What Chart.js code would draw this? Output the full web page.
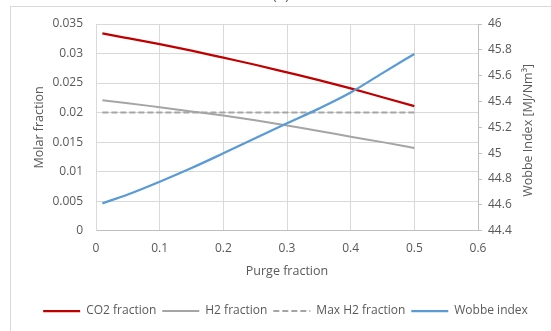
<!DOCTYPE html>
<html>
<head>
<meta charset="utf-8">
<script src="https://cdn.jsdelivr.net/npm/chart.js@4.4.1/dist/chart.umd.min.js"></script>
<style>
  html, body { margin: 0; padding: 0; background: #fff; overflow: hidden; }
  #wrap { position: absolute; left: 0; top: 0; width: 551px; height: 331px; }
</style>
</head>
<body>
<div id="wrap"><canvas id="chart" width="551" height="331"></canvas></div>
<script>
// purge fraction sample points
const purge = [0.01, 0.05, 0.1, 0.15, 0.2, 0.25, 0.3, 0.35, 0.4, 0.45, 0.5];
const co2Fraction = [0.0334, 0.0326, 0.0316, 0.0305, 0.0293, 0.0281, 0.0268, 0.0255, 0.0241, 0.0226, 0.0211];
const h2Fraction = [0.0221, 0.0216, 0.0209, 0.0202, 0.0195, 0.0187, 0.0178, 0.0169, 0.0159, 0.0150, 0.0140];
const maxH2Fraction = [0.02, 0.02, 0.02, 0.02, 0.02, 0.02, 0.02, 0.02, 0.02, 0.02, 0.02];
const wobbeIndex = [44.612, 44.68, 44.779, 44.885, 44.999, 45.115, 45.231, 45.345, 45.47, 45.62, 45.768];

const TEXT = '#595959';
const FONT = '"Open Sans", sans-serif';
const pts = arr => purge.map((x, i) => ({ x, y: arr[i] }));
const fmt = v => String(+Number(v).toFixed(4));

// frame, cut-off title and the right axis title (reads bottom to top like Excel)
const extras = {
  id: 'extras',
  afterLayout(chart) {
    // Excel centres the legend a little to the right of the canvas middle
    chart.legend.left += 10;
    chart.legend.right += 10;
  },
  beforeDraw(chart) {
    const ctx = chart.ctx;
    ctx.save();
    ctx.strokeStyle = '#d9d9d9';
    ctx.lineWidth = 1;
    ctx.strokeRect(10.5, 6.5, 700, 500);
    ctx.fillStyle = TEXT;
    ctx.font = '14px ' + FONT;
    ctx.textAlign = 'center';
    ctx.textBaseline = 'alphabetic';
    ctx.fillText('(b)', 281, -1);
    ctx.restore();
  },
  afterDraw(chart) {
    const ctx = chart.ctx;
    const a = chart.chartArea;
    ctx.save();
    ctx.translate(528, (a.top + a.bottom) / 2 + 3);
    ctx.rotate(-Math.PI / 2);
    ctx.fillStyle = TEXT;
    ctx.font = '12.5px ' + FONT;
    ctx.textAlign = 'center';
    ctx.textBaseline = 'middle';
    ctx.fillText('Wobbe Index [MJ/Nm³]', 0, 0);
    ctx.restore();
  }
};

const baseLabels = Chart.defaults.plugins.legend.labels.generateLabels;

new Chart(document.getElementById('chart'), {
  type: 'line',
  data: {
    datasets: [
      { label: 'CO2 fraction', data: pts(co2Fraction), yAxisID: 'y', borderColor: '#c00000', backgroundColor: '#c00000', borderWidth: 2.25 },
      { label: 'H2 fraction', data: pts(h2Fraction), yAxisID: 'y', borderColor: '#a5a5a5', backgroundColor: '#a5a5a5', borderWidth: 2 },
      { label: 'Max H2 fraction', data: pts(maxH2Fraction), yAxisID: 'y', borderColor: '#a5a5a5', backgroundColor: '#a5a5a5', borderWidth: 2, borderDash: [6, 3] },
      { label: 'Wobbe index', data: pts(wobbeIndex), yAxisID: 'y1', borderColor: '#5b9bd5', backgroundColor: '#5b9bd5', borderWidth: 2.25, order: -1 }
    ]
  },
  options: {
    responsive: false,
    animation: false,
    devicePixelRatio: 1,
    elements: { point: { radius: 0 }, line: { cubicInterpolationMode: 'monotone' } },
    layout: { padding: { top: 24, left: 0, right: 0, bottom: 4 } },
    plugins: {
      legend: {
        position: 'bottom',
        labels: {
          color: TEXT,
          font: { family: FONT, size: 12 },
          usePointStyle: true,
          pointStyle: 'line',
          pointStyleWidth: 37,
          padding: 6,
          generateLabels: chart => baseLabels(chart)
            .map(item => ({ ...item, lineDash: chart.data.datasets[item.datasetIndex].borderDash || [] }))
            .sort((a, b) => a.datasetIndex - b.datasetIndex)
        }
      },
      tooltip: { enabled: false }
    },
    scales: {
      x: {
        type: 'linear',
        min: 0, max: 0.6,
        ticks: { stepSize: 0.1, color: TEXT, font: { family: FONT, size: 12 }, padding: 11, callback: fmt, maxRotation: 0 },
        grid: { color: '#d9d9d9', drawTicks: false },
        border: { color: '#bfbfbf' },
        title: { display: true, text: 'Purge fraction', color: TEXT, font: { family: FONT, size: 12.5 }, padding: { top: 0, bottom: 20 } },
        afterFit: s => { s.height = 68.3; }
      },
      y: {
        position: 'left',
        min: 0, max: 0.035,
        ticks: { stepSize: 0.005, color: TEXT, font: { family: FONT, size: 12 }, padding: 13, callback: fmt },
        grid: { color: '#d9d9d9', drawTicks: false },
        border: { color: '#d9d9d9' },
        title: { display: true, text: 'Molar fraction', color: TEXT, font: { family: FONT, size: 12.5 }, padding: { top: 32, bottom: 0 } },
        afterFit: s => { s.width = 96; }
      },
      y1: {
        position: 'right',
        min: 44.4, max: 46,
        ticks: { stepSize: 0.2, color: TEXT, font: { family: FONT, size: 12 }, padding: 6, callback: fmt },
        grid: { drawOnChartArea: false, color: '#bfbfbf', tickLength: 4 },
        border: { color: '#bfbfbf' },
        afterFit: s => { s.width = 73; }
      }
    }
  },
  plugins: [extras]
});
</script>
</body>
</html>
